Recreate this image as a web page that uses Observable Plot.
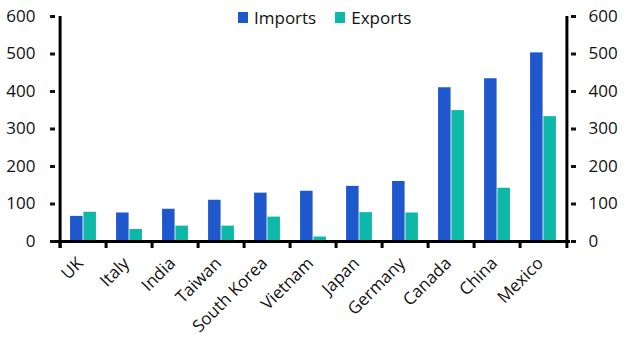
<!DOCTYPE html>
<html>
<head>
<meta charset="utf-8">
<script src="https://cdn.jsdelivr.net/npm/d3@7"></script>
<script src="https://cdn.jsdelivr.net/npm/@observablehq/plot@0.6"></script>
<style>
  html, body { margin: 0; padding: 0; background: #fff; }
  #wrap { position: relative; width: 631px; height: 359px; font-family: "Open Sans", sans-serif; }
  #legend { position: absolute; top: 6px; left: 238px; display: flex; align-items: center; font-size: 17px; color: #111; }
  #legend .sw { display: inline-block; width: 10px; height: 11px; margin-right: 6px; }
  #legend .item { display: flex; align-items: center; margin-right: 19px; }
</style>
</head>
<body>
<div id="wrap"></div>
<script>
const countries = ["UK","Italy","India","Taiwan","South Korea","Vietnam","Japan","Germany","Canada","China","Mexico"];
const imports = [67, 76, 86, 110, 129, 134, 147, 160, 410, 434, 503];
const exportsV = [78, 32, 41, 41, 65, 12, 77, 76, 349, 142, 333];
const series = ["Imports", "Exports"];
const yTicks = [0, 100, 200, 300, 400, 500, 600];
const colors = ["#1f58cd", "#0db8a8"];

const W = 631, H = 359, ml = 55, mr = 61, mt = 16, mb = 118;
const step = (W - ml - mr) / countries.length;
const barW = step * 0.285;
const outer = step / 2 - barW;

const data = countries.map((c, i) => ({country: c, imports: imports[i], exports: exportsV[i]}));
const tickLenData = 7 / ((H - mt - mb) / 600);

const chart = Plot.plot({
  width: W, height: H,
  marginLeft: ml, marginRight: mr, marginTop: mt, marginBottom: mb,
  style: {fontFamily: "Open Sans, sans-serif", fontSize: "17px", color: "#111", background: "white"},
  x: {domain: countries, padding: 0, label: null},
  y: {domain: [0, 600], ticks: yTicks, label: null},
  marks: [
    Plot.barY(data, {x: "country", y: "imports", fill: colors[0], insetLeft: outer, insetRight: step - outer - barW}),
    Plot.barY(data, {x: "country", y: "exports", fill: colors[1], insetLeft: outer + barW, insetRight: outer}),
    Plot.ruleY([0], {stroke: "#000", strokeWidth: 3}),
    Plot.ruleX(countries, {x: d => d, y1: 0, y2: -tickLenData, dx: -step / 2, stroke: "#000", strokeWidth: 3}),
    Plot.ruleX([countries[0]], {x: d => d, y1: -tickLenData, y2: 600, dx: -step / 2, stroke: "#000", strokeWidth: 3}),
    Plot.ruleX([countries[countries.length - 1]], {x: d => d, y1: -tickLenData, y2: 600, dx: step / 2, stroke: "#000", strokeWidth: 3}),
    Plot.axisY(yTicks, {anchor: "left", tickSize: 5, tickPadding: 15, strokeWidth: 3, fontSize: 17, label: null}),
    Plot.axisY(yTicks, {anchor: "right", tickSize: 5, tickPadding: 13, strokeWidth: 3, fontSize: 17, label: null}),
    Plot.axisX({tickRotate: -45, tickSize: 0, tickPadding: 14, dy: 5, dx: -3, fontSize: 17, label: null})
  ]
});

const wrap = document.getElementById("wrap");
wrap.appendChild(chart);
const legend = document.createElement("div");
legend.id = "legend";
series.forEach((s, i) => {
  const it = document.createElement("div");
  it.className = "item";
  const sw = document.createElement("span");
  sw.className = "sw";
  sw.style.background = colors[i];
  const t = document.createElement("span");
  t.textContent = s;
  it.appendChild(sw); it.appendChild(t);
  legend.appendChild(it);
});
wrap.appendChild(legend);
</script>
</body>
</html>
